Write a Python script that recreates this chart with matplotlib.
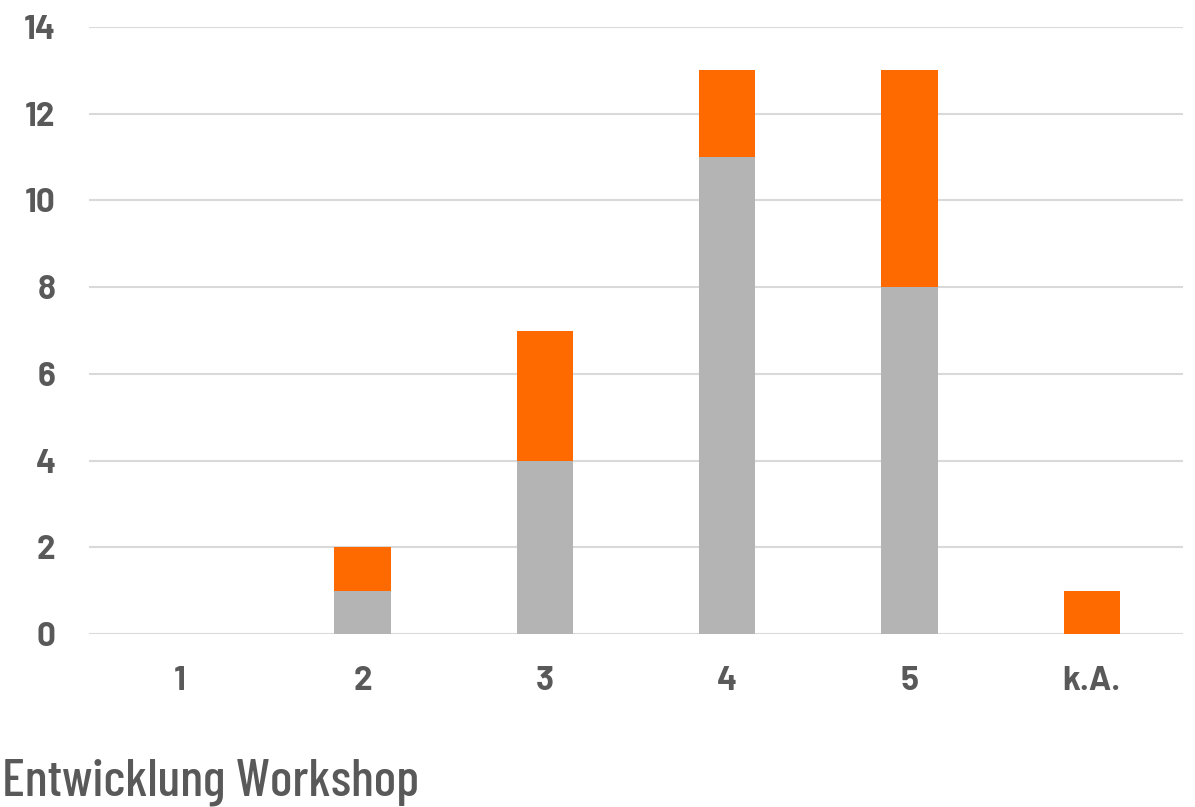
import matplotlib
matplotlib.use("Agg")
import matplotlib.pyplot as plt

categories = ["1", "2", "3", "4", "5", "k.A."]
gray_vals = [0, 1, 4, 11, 8, 0]
orange_vals = [0, 1, 3, 2, 5, 1]
y_ticks = [0, 2, 4, 6, 8, 10, 12, 14]
title_text = "Entwicklung Workshop"

tick_fam = ["Barlow", "Barlow Semi Condensed", "DejaVu Sans"]
title_fam = ["Barlow Condensed", "Barlow Semi Condensed", "DejaVu Sans"]

W, H = 1195, 807
fig = plt.figure(figsize=(W / 100, H / 100), dpi=100)
ax = fig.add_axes([89 / W, (807 - 634) / H, 1094 / W, 607 / H])

x = list(range(len(categories)))
ax.bar(x, gray_vals, width=0.31, color="#B4B4B4", zorder=3)
ax.bar(x, orange_vals, bottom=gray_vals, width=0.31, color="#FF6A00", zorder=3)

ax.set_xlim(-0.5, len(categories) - 0.5)
ax.set_ylim(0, 14)
ax.set_yticks(y_ticks)
ax.set_xticks(x)
ax.set_xticklabels(categories)
ax.grid(axis="y", color="#D9D9D9", linewidth=1.5, zorder=0)
ax.set_axisbelow(True)
for s in ax.spines.values():
    s.set_visible(False)
ax.tick_params(length=0, labelsize=24, labelcolor="#595959")
ax.tick_params(axis="x", pad=23)
ax.tick_params(axis="y", pad=24)
for lab in ax.get_xticklabels() + ax.get_yticklabels():
    lab.set_fontfamily(tick_fam)
    lab.set_fontweight("bold")

fig.text(2 / W, (807 - 796) / H, title_text, ha="left", va="baseline",
         fontsize=38, color="#595959", fontfamily=title_fam, fontweight=500)

fig.savefig("out.png", dpi=100)
